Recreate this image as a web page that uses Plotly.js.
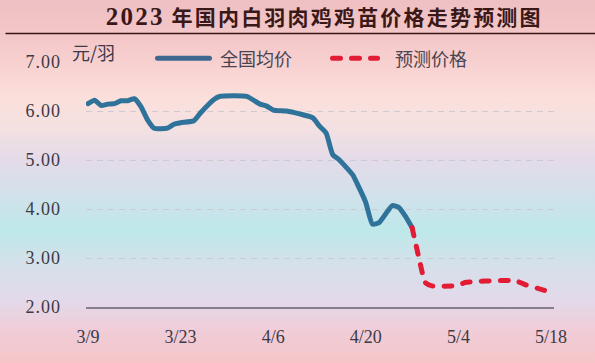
<!DOCTYPE html>
<html>
<head>
<meta charset="utf-8">
<script src="https://cdn.plot.ly/plotly-3.0.1.min.js"></script>
<style>
html, body { margin: 0; padding: 0; }
#chart {
  width: 595px; height: 363px;
  background: linear-gradient(to bottom,
    #efc0c3 0px, #f3c6c8 34px, #f7cfcf 60px, #fbe0dc 100px, #f3e0e2 130px,
    #e4dbe9 160px, #cfe2eb 200px, #bde8e9 230px, #d5e0ea 265px, #e3d9ea 300px,
    #f0cdd8 330px, #f5c5c8 363px);
}
.gtitle { letter-spacing: 2.2px; }
.main-svg path.js-line, .main-svg .shapelayer path { stroke-linecap: round; stroke-linejoin: round; }
.ytick text { letter-spacing: 1px; }
</style>
</head>
<body>
<div id="chart"></div>
<script>
// National average price (元/羽)
const actualDates = ['2023-03-09','2023-03-10','2023-03-11','2023-03-12','2023-03-13','2023-03-14','2023-03-15','2023-03-16','2023-03-17','2023-03-18','2023-03-19','2023-03-21','2023-03-22','2023-03-23','2023-03-25','2023-03-26','2023-03-28','2023-03-29','2023-04-02','2023-04-04','2023-04-05','2023-04-06','2023-04-08','2023-04-10','2023-04-12','2023-04-13','2023-04-14','2023-04-15','2023-04-16','2023-04-18','2023-04-19','2023-04-20','2023-04-21','2023-04-22','2023-04-24','2023-04-25','2023-04-26','2023-04-27'];
const actualValues = [6.15,6.22,6.11,6.14,6.15,6.21,6.21,6.25,6.09,5.82,5.65,5.65,5.73,5.76,5.80,5.96,6.23,6.30,6.30,6.14,6.10,6.02,6.00,5.94,5.86,5.69,5.55,5.11,5.00,4.70,4.43,4.13,3.69,3.72,4.07,4.03,3.85,3.62];
// Forecast price
const forecastDates = ['2023-04-27','2023-04-28','2023-04-29','2023-04-30','2023-05-03','2023-05-04','2023-05-05','2023-05-08','2023-05-12','2023-05-13','2023-05-14','2023-05-16','2023-05-18'];
const forecastValues = [3.62,3.02,2.50,2.43,2.43,2.44,2.50,2.53,2.54,2.52,2.46,2.38,2.30];
// Axis ticks
const xTickDates = ['2023-03-09','2023-03-23','2023-04-06','2023-04-20','2023-05-04','2023-05-18'];
const xTickLabels = ['3/9','3/23','4/6','4/20','5/4','5/18'];
const yTickValues = [2,3,4,5,6,7];
const yTickLabels = ['2.00','3.00','4.00','5.00','6.00','7.00'];
const seriesNames = ['全国均价','预测价格'];
const unitLabel = '元/羽';
const titleYear = '2023';
const titleRest = ' 年国内白羽肉鸡鸡苗价格走势预测图';

const blue = '#30739a';
const red = '#e31c36';
const tickFont = {family: 'Liberation Serif, DejaVu Serif, serif', size: 18, color: '#3d3a48'};
const cjkFont = 'Noto Sans CJK SC, sans-serif';

const traces = [
  {x: actualDates, y: actualValues, name: seriesNames[0], type: 'scatter', mode: 'lines',
   line: {color: blue, width: 5, shape: 'spline', smoothing: 0.5}, showlegend: false},
  {x: forecastDates, y: forecastValues, name: seriesNames[1], type: 'scatter', mode: 'lines',
   line: {color: red, width: 5, dash: '8px,11px', shape: 'spline', smoothing: 0.5}, showlegend: false}
];

const layout = {
  width: 595, height: 363,
  margin: {l: 86, r: 41, t: 62, b: 56},
  paper_bgcolor: 'rgba(0,0,0,0)', plot_bgcolor: 'rgba(0,0,0,0)',
  title: {text: '<span style="font-family:Liberation Serif;font-size:25px">' + titleYear + '</span>' + titleRest,
          x: 0.545, xref: 'container', xanchor: 'center',
          y: 0.952, yref: 'container', yanchor: 'middle',
          font: {family: cjkFont, size: 21, color: '#3a1818', weight: 700}},
  xaxis: {type: 'date', range: ['2023-03-08 16:44', '2023-05-18 10:53'],
          tickvals: xTickDates, ticktext: xTickLabels, tickfont: tickFont,
          showgrid: false, zeroline: false, showline: true, linecolor: '#857f8f', linewidth: 2,
          ticks: '', ticklabelstandoff: 12, fixedrange: true},
  yaxis: {range: [2, 7], tickvals: yTickValues, ticktext: yTickLabels, tickfont: tickFont,
          showgrid: true, gridcolor: '#cdcad0', gridwidth: 1, griddash: '6px,5px',
          zeroline: false, showline: false, ticks: '', ticklabelstandoff: 24, fixedrange: true},
  shapes: [
    {type: 'line', xref: 'paper', yref: 'paper', x0: -0.171, x1: 1.09, y0: 1.1163, y1: 1.1163,
     line: {color: '#3b1515', width: 1.5}},
    {type: 'line', xref: 'paper', yref: 'paper', x0: 0.1528, x1: 0.2639, y0: 1.0151, y1: 1.0151,
     line: {color: '#3d6890', width: 5}},
    {type: 'line', xref: 'paper', yref: 'paper', x0: 0.5267, x1: 0.6229, y0: 1.0151, y1: 1.0151,
     line: {color: red, width: 5, dash: '8px,11px'}}
  ],
  annotations: [
    {text: unitLabel, xref: 'paper', yref: 'paper', x: -0.0342, y: 1.0408, xanchor: 'left', yanchor: 'middle',
     showarrow: false, font: {family: cjkFont, size: 18, color: '#3d3a48'}},
    {text: seriesNames[0], xref: 'paper', yref: 'paper', x: 0.282, y: 1.0163, xanchor: 'left', yanchor: 'middle',
     showarrow: false, font: {family: cjkFont, size: 18, color: '#4a4450'}},
    {text: seriesNames[1], xref: 'paper', yref: 'paper', x: 0.656, y: 1.0163, xanchor: 'left', yanchor: 'middle',
     showarrow: false, font: {family: cjkFont, size: 18, color: '#4a4450'}}
  ]
};

Plotly.newPlot('chart', traces, layout, {displayModeBar: false, staticPlot: true});
</script>
</body>
</html>
